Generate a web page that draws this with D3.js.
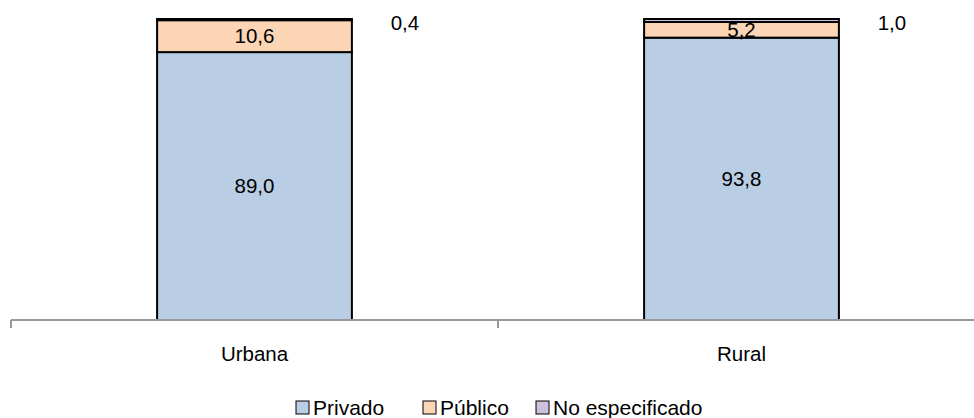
<!DOCTYPE html>
<html><head><meta charset="utf-8">
<script src="https://cdn.jsdelivr.net/npm/d3@7"></script>
<style>body{margin:0;background:#fff}svg{display:block;font-family:"Liberation Sans Narrow","Arial Narrow","Liberation Sans",Arial,sans-serif}</style>
</head><body><div id="chart"></div>
<script>
const categories = ["Urbana", "Rural"];
const seriesNames = ["Privado", "Público", "No especificado"];
const privado = [89.0, 93.8];
const publico = [10.6, 5.2];
const noEspecificado = [0.4, 1.0];
const colors = ["#B9CDE5", "#FCD5B5", "#CCC1DA"];

const W = 974, H = 418;
const svg = d3.select("#chart").append("svg").attr("width", W).attr("height", H);
const x = d3.scaleBand().domain(categories).range([11, 985]).paddingInner(0).paddingOuter(0);
const y = d3.scaleLinear().domain([0, 100]).range([320, 19]);
const fmt = v => d3.format(".1f")(v).replace(".", ",");

const data = categories.map((c, i) => ({cat: c, Privado: privado[i], "Público": publico[i], "No especificado": noEspecificado[i]}));
const stack = d3.stack().keys(seriesNames)(data);
const bw = x.bandwidth() * 0.4;

const g = svg.append("g");
stack.forEach((layer, li) => {
  g.selectAll(null).data(layer).enter().append("rect")
    .attr("x", d => x(d.data.cat) + x.bandwidth() / 2 - bw / 2)
    .attr("width", bw)
    .attr("y", d => y(d[1]))
    .attr("height", d => y(d[0]) - y(d[1]))
    .attr("fill", colors[li])
    .attr("stroke", "#000").attr("stroke-width", 2);
});

// axis
const axis = svg.append("g").attr("transform", "translate(0,320)")
  .call(d3.axisBottom(x).tickSize(0).tickFormat(""));
axis.select(".domain").attr("stroke", "#999").attr("stroke-width", 2).attr("d", "M11,0H985");
axis.selectAll(".tick").remove();
const bounds = [11, 498, 985];
svg.selectAll(null).data(bounds).enter().append("line")
  .attr("x1", d => d).attr("x2", d => d).attr("y1", 320).attr("y2", 328)
  .attr("stroke", "#999").attr("stroke-width", 2);

svg.selectAll(null).data(categories).enter().append("text")
  .attr("x", d => x(d) + x.bandwidth() / 2).attr("y", 361)
  .attr("text-anchor", "middle").attr("font-size", 20.5).attr("fill", "#000").text(d => d);

// labels
const lbl = svg.append("g").attr("font-size", 20.5).attr("fill", "#000").attr("text-anchor", "middle");
stack[0].forEach(d => lbl.append("text").attr("x", x(d.data.cat) + x.bandwidth() / 2).attr("y", (y(d[0]) + y(d[1])) / 2 + 7).text(fmt(d[1] - d[0])));
stack[1].forEach(d => lbl.append("text").attr("x", x(d.data.cat) + x.bandwidth() / 2).attr("y", (y(d[0]) + y(d[1])) / 2 + 7).text(fmt(d[1] - d[0])));
stack[2].forEach(d => lbl.append("text").attr("x", x(d.data.cat) + x.bandwidth() / 2 + bw / 2 + 53).attr("y", 30).text(fmt(d[1] - d[0])));

// legend
const legX = [296, 423, 536];
const leg = svg.append("g");
seriesNames.forEach((n, i) => {
  leg.append("rect").attr("x", legX[i]).attr("y", 401).attr("width", 13).attr("height", 13)
    .attr("fill", colors[i]).attr("stroke", "#000").attr("stroke-width", 1);
  leg.append("text").attr("x", legX[i] + 17).attr("y", 415).attr("font-size", 21).attr("fill", "#000").text(n);
});
</script></body></html>
